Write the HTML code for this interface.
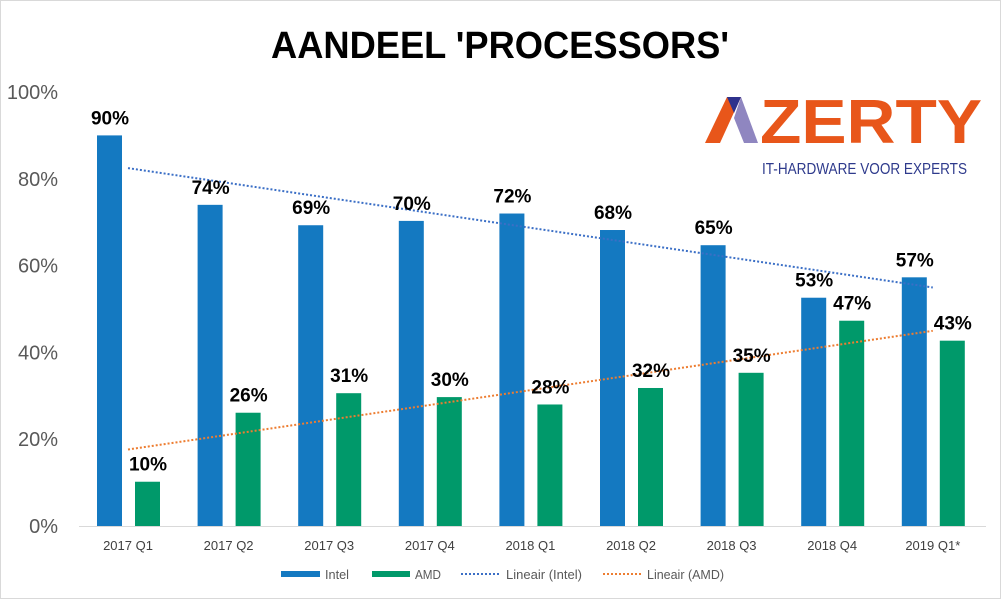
<!DOCTYPE html>
<html><head><meta charset="utf-8"><style>
html,body{margin:0;padding:0;background:#fff;}
svg{display:block;font-family:"Liberation Sans",sans-serif;}
</style></head><body>
<svg id="chart" width="1001" height="599" viewBox="0 0 1001 599">
<rect x="0.5" y="0.5" width="1000" height="598" fill="#fff" stroke="#d9d9d9"/>
<text x="500" y="58" text-anchor="middle" font-size="38" font-weight="bold" textLength="458" lengthAdjust="spacingAndGlyphs" fill="#000">AANDEEL 'PROCESSORS'</text>
<g>
<polygon points="705,143 727,97 741,97 720,143" fill="#e8561a"/>
<polygon points="741,97 758,143 744,143 734,118" fill="#8f86c0"/>
<polygon points="727,97 741,97 734,113" fill="#2e318c"/>
<text x="760" y="143" font-size="62" font-weight="bold" fill="#e8561a" textLength="222" lengthAdjust="spacingAndGlyphs">ZERTY</text>
<text x="762" y="174" font-size="16" fill="#2e3a8c" textLength="205" lengthAdjust="spacingAndGlyphs">IT-HARDWARE VOOR EXPERTS</text>
</g>
<g id="grid"></g><g id="bars"></g><g id="trend"></g><g id="labels"></g>
<g font-size="13" fill="#595959">
<rect x="281" y="571" width="39" height="6" fill="#1479c1"/>
<text x="325" y="579" textLength="24" lengthAdjust="spacingAndGlyphs">Intel</text>
<rect x="372" y="571" width="38" height="6" fill="#00996a"/>
<text x="415" y="579" textLength="26" lengthAdjust="spacingAndGlyphs">AMD</text>
<line x1="461" y1="574" x2="501" y2="574" stroke="#3b6fc6" stroke-width="2" stroke-dasharray="2,2"/>
<text x="506" y="579" textLength="76" lengthAdjust="spacingAndGlyphs">Lineair (Intel)</text>
<line x1="603" y1="574" x2="641" y2="574" stroke="#ed7d31" stroke-width="2" stroke-dasharray="2,2"/>
<text x="647" y="579" textLength="77" lengthAdjust="spacingAndGlyphs">Lineair (AMD)</text>
</g>
</svg>
<script>
const categories=["2017 Q1","2017 Q2","2017 Q3","2017 Q4","2018 Q1","2018 Q2","2018 Q3","2018 Q4","2019 Q1*"];
const intel=[90,74,69.3,70.3,72,68.2,64.7,52.6,57.3];
const amd=[10.2,26.1,30.6,29.7,28,31.8,35.3,47.3,42.7];
const yTicks=[0,20,40,60,80,100];
const NS="http://www.w3.org/2000/svg";
const y=v=>526-v*4.34;
const cx=i=>128+i*100.6;
function mk(t,a,p){const e=document.createElementNS(NS,t);for(const k in a)e.setAttribute(k,a[k]);p.appendChild(e);return e;}
const grid=document.getElementById('grid'),bars=document.getElementById('bars'),trend=document.getElementById('trend'),labels=document.getElementById('labels');
yTicks.forEach(t=>{
 const tx=mk('text',{x:58,y:y(t)+7,'text-anchor':'end','font-size':20,fill:'#595959'},grid);
 tx.textContent=t+'%';
 
 
});
const ax=mk('line',{x1:79,x2:986,y1:526.5,y2:526.5,stroke:'#d9d9d9'},grid);


categories.forEach((c,i)=>{
 const t=mk('text',{x:cx(i),y:550,'text-anchor':'middle','font-size':13,fill:'#404040'},grid);
 t.textContent=c;
 
 
 const b1=mk('rect',{x:cx(i)-31,y:y(intel[i]),width:25,height:526-y(intel[i]),fill:'#1479c1'},bars);
 
 
 const b2=mk('rect',{x:cx(i)+7,y:y(amd[i]),width:25,height:526-y(amd[i]),fill:'#00996a'},bars);
 
 
 const l1=mk('text',{x:cx(i)-18,y:y(intel[i])-11,'text-anchor':'middle','font-size':19,'font-weight':'bold',fill:'#000'},labels);
 l1.textContent=Math.round(intel[i])+'%';
 
 
 const l2=mk('text',{x:cx(i)+20,y:y(amd[i])-11,'text-anchor':'middle','font-size':19,'font-weight':'bold',fill:'#000'},labels);
 l2.textContent=Math.round(amd[i])+'%';
 
 
});
function reg(d){const n=d.length,mx=(n-1)/2,my=d.reduce((a,b)=>a+b)/n;let s=0,q=0;d.forEach((v,i)=>{s+=(i-mx)*(v-my);q+=(i-mx)*(i-mx);});const m=s/q;return[my-m*mx,my+m*(n-1-mx)];}
[[intel,'#3b6fc6','trend-intel'],[amd,'#ed7d31','trend-amd']].forEach(([d,col,nm])=>{
 const [a,b]=reg(d);
 const l=mk('line',{x1:cx(0),y1:y(a),x2:cx(d.length-1),y2:y(b),stroke:col,'stroke-width':2,'stroke-dasharray':'2,2'},trend);
 
 
});
</script>
</body></html>
